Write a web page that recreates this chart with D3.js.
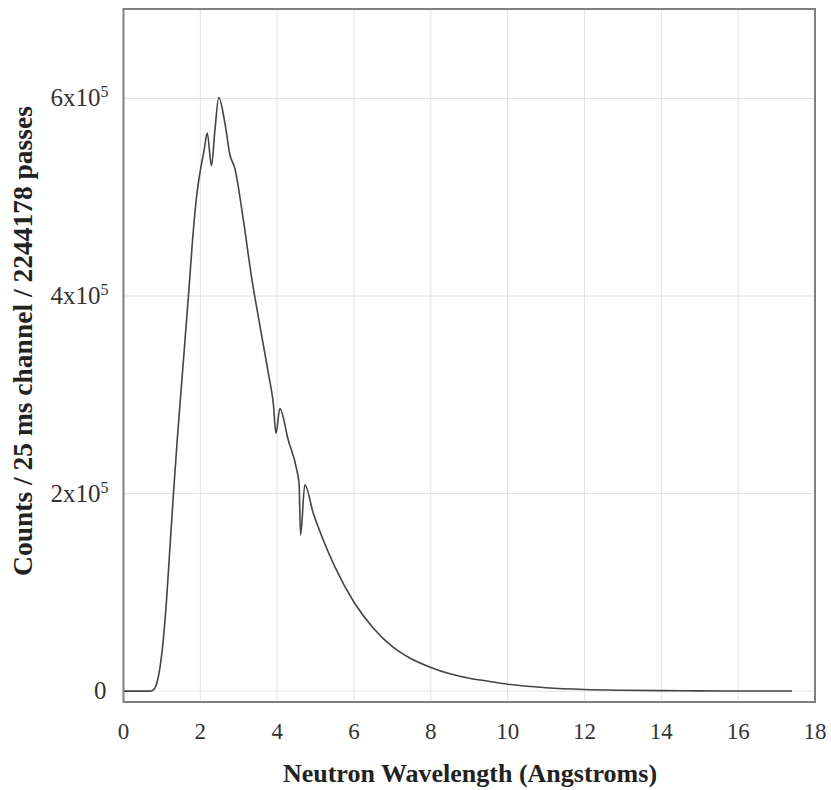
<!DOCTYPE html>
<html lang="en">
  <head>
    <meta charset="UTF-8" />
    <title>Neutron Wavelength Spectrum</title>
    <script src="https://d3js.org/d3.v7.min.js"></script>
    <style>
      body {
        margin: 0;
        background: #fff;
      }
      .tick-label {
        font-family: "Liberation Serif", "DejaVu Serif", serif;
        font-size: 23px;
        fill: #333;
      }
      .y-label {
        font-size: 25px;
      }
      .axis-title {
        font-family: "Liberation Serif", "DejaVu Serif", serif;
        font-size: 26px;
        font-weight: bold;
        fill: #222;
      }
    </style>
  </head>
  <body>
    <svg id="chart" width="831" height="790"></svg>

    <script>
      // Wavelength (Angstroms) and counts
      const wavelength = [
        0, 0.5, 0.7, 0.77, 0.85, 0.95, 1.05, 1.12, 1.2, 1.3, 1.4, 1.5, 1.6, 1.7,
        1.8, 1.9, 2.0, 2.1, 2.18, 2.29, 2.38, 2.48, 2.64, 2.77, 2.9, 3.12, 3.33,
        3.55, 3.77, 3.9, 3.97, 4.07, 4.29, 4.51, 4.57, 4.61, 4.72, 4.94, 5.2,
        5.5, 6.0, 6.5, 7.0, 7.5, 8.0, 8.5, 9.0, 9.5, 10, 11, 12, 13, 14, 15, 16,
        17.4,
      ];
      const counts = [
        0, 0, 0, 1000, 6000, 24000, 58000, 92000, 140000, 200000, 255000,
        305000, 355000, 405000, 458000, 500000, 527000, 548000, 565000, 532000,
        568000, 601000, 575000, 543000, 529000, 477000, 420000, 370000, 322000,
        291000, 261000, 286000, 254000, 224000, 210000, 158000, 209000, 180000,
        153000, 126000, 90000, 64000, 45000, 32500, 24000, 17500, 13000, 10000,
        7000, 3500, 1700, 900, 500, 300, 150, 100,
      ];

      const xTicks = [0, 2, 4, 6, 8, 10, 12, 14, 16, 18];
      const yTicks = [0, 2e5, 4e5, 6e5];
      const yTickMantissa = ["0", "2", "4", "6"];

      const svg = d3.select("#chart");
      const margin = { top: 9, right: 16, bottom: 88, left: 123.5 };
      const width = +svg.attr("width") - margin.left - margin.right;
      const height = +svg.attr("height") - margin.top - margin.bottom;
      const g = svg
        .append("g")
        .attr("transform", `translate(${margin.left},${margin.top})`);

      const x = d3.scaleLinear().domain([0, 18]).range([0, width]);
      const y = d3.scaleLinear().domain([-11000, 690600]).range([height, 0]);

      // Gridlines
      g.append("g")
        .selectAll("line")
        .data(xTicks.slice(1, -1))
        .join("line")
        .attr("x1", (d) => x(d))
        .attr("x2", (d) => x(d))
        .attr("y1", 0)
        .attr("y2", height)
        .attr("stroke", "#e2e2e2")
        .attr("stroke-width", 1);

      g.append("g")
        .selectAll("line")
        .data(yTicks)
        .join("line")
        .attr("x1", 0)
        .attr("x2", width)
        .attr("y1", (d) => y(d))
        .attr("y2", (d) => y(d))
        .attr("stroke", "#e2e2e2")
        .attr("stroke-width", 1);

      // Curve
      const data = wavelength.map((w, i) => ({ w: w, c: counts[i] }));
      const line = d3
        .line()
        .x((d) => x(d.w))
        .y((d) => y(d.c))
        .curve(d3.curveMonotoneX);

      g.append("path")
        .datum(data)
        .attr("fill", "none")
        .attr("stroke", "#444")
        .attr("stroke-width", 1.6)
        .attr("stroke-linejoin", "round")
        .attr("d", line);

      // Frame
      g.append("rect")
        .attr("x", 0)
        .attr("y", 0)
        .attr("width", width)
        .attr("height", height)
        .attr("fill", "none")
        .attr("stroke", "#808080")
        .attr("stroke-width", 2);

      // X tick labels
      g.append("g")
        .selectAll("text")
        .data(xTicks)
        .join("text")
        .attr("class", "tick-label")
        .attr("x", (d) => x(d))
        .attr("y", height + 37)
        .attr("text-anchor", "middle")
        .text((d) => d);

      // Y tick labels (with superscript exponent)
      const yl = g
        .append("g")
        .selectAll("text")
        .data(yTicks)
        .join("text")
        .attr("class", "tick-label y-label")
        .attr("x", (d) => (d === 0 ? -17 : -15))
        .attr("y", (d) => y(d) + 8)
        .attr("text-anchor", "end");

      yl.append("tspan").text((d, i) => (d === 0 ? "0" : yTickMantissa[i] + "x10"));
      yl.filter((d) => d !== 0)
        .append("tspan")
        .attr("dy", -9)
        .attr("font-size", "16px")
        .text("5");

      // Axis titles
      svg
        .append("text")
        .attr("class", "axis-title")
        .attr("x", 470)
        .attr("y", 782)
        .attr("text-anchor", "middle")
        .text("Neutron Wavelength (Angstroms)");

      svg
        .append("text")
        .attr("class", "axis-title")
        .attr("transform", "translate(32,341) rotate(-90)")
        .attr("text-anchor", "middle")
        .style("font-size", "27.5px")
        .text("Counts / 25 ms channel / 2244178 passes");
    </script>
  </body>
</html>
